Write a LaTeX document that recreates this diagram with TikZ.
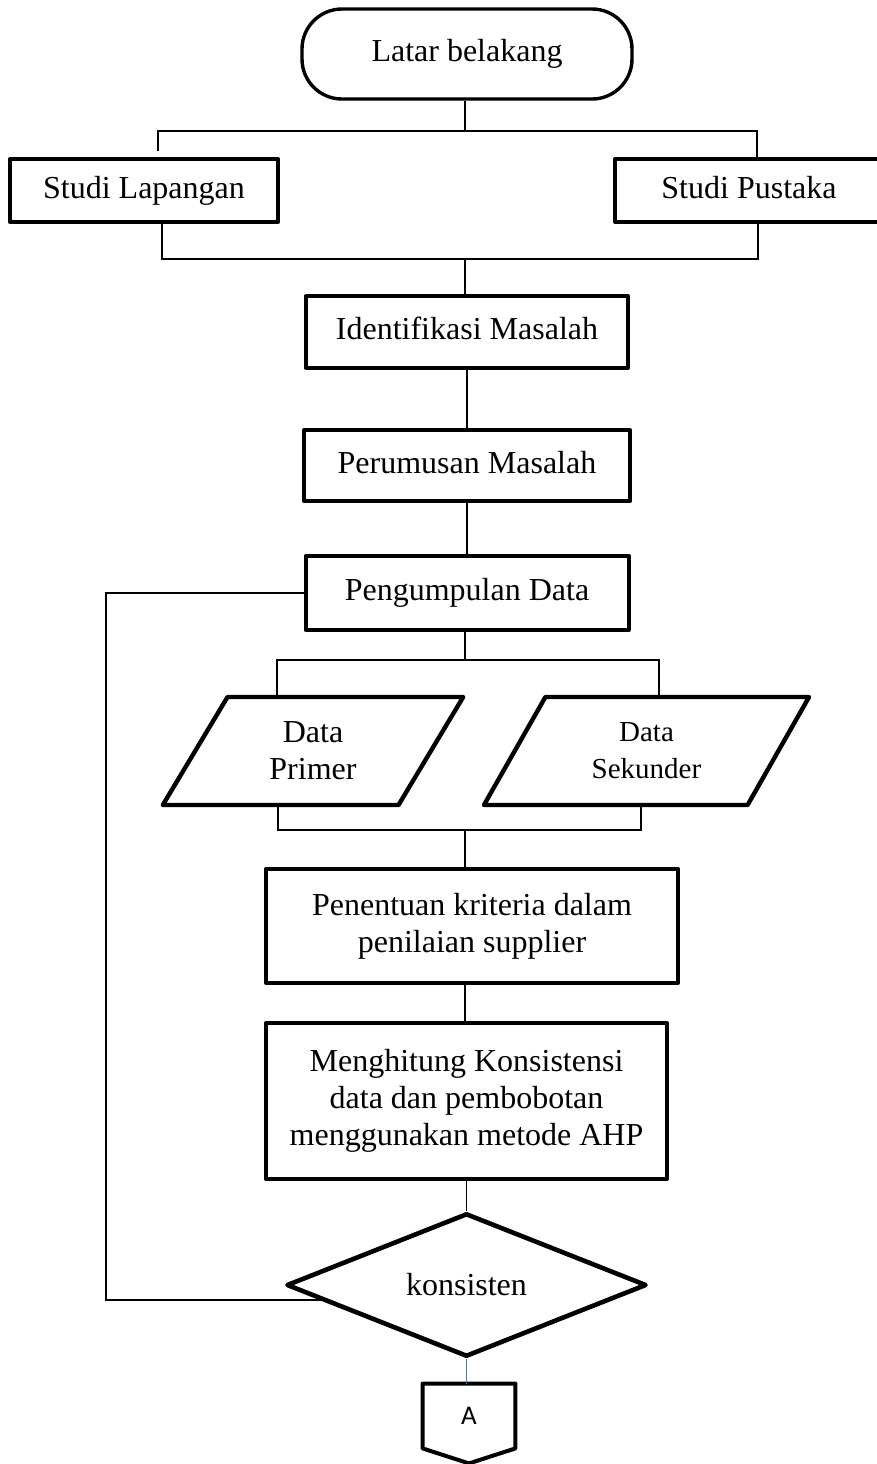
\documentclass[tikz,border=0pt]{standalone}
\usepackage{fontspec}
\setmainfont{Liberation Serif}
\newfontfamily\konfont{Carlito}
\usepackage{xcolor}
\usepackage{tikz}
\usetikzlibrary{positioning,calc,shapes.geometric}
\definecolor{garisbiru}{RGB}{68,114,196}

\begin{document}
\begin{tikzpicture}[
  x=0.5pt, y=0.5pt,
  font=\fontsize{16}{18.5}\selectfont,
  term/.style={draw, line width=1.7pt, rounded corners=20pt, minimum width=165pt, minimum height=45pt, inner sep=0pt},
  proc/.style={draw, line width=2pt, line join=round, align=center, inner sep=0pt},
  satu/.style={text height=11pt, text depth=3.5pt},
  data/.style={draw, trapezium, trapezium stretches=true, line width=2.2pt, line join=round, align=center, inner sep=0pt, minimum height=54pt},
  dec/.style={draw, diamond, line width=2.3pt, line join=round, minimum width=180pt, minimum height=71pt, inner sep=0pt},
  garis/.style={line width=0.7pt}
]
\useasboundingbox (0,0) rectangle (877,-1464);
\node[term, satu] (latar) at (467,-54) {Latar belakang};
\node[proc, satu, minimum width=134pt, minimum height=31.5pt] (lapangan) at (144,-190.5) {Studi Lapangan};
\node[proc, satu, minimum width=134pt, minimum height=31.5pt] (pustaka) at (749,-190.5) {Studi Pustaka};
\node[proc, satu, minimum width=161pt, minimum height=36pt] (identifikasi) at (467,-332) {Identifikasi Masalah};
\node[proc, satu, minimum width=163pt, minimum height=35.5pt, below=29pt of identifikasi] (perumusan) {Perumusan Masalah};
\node[proc, satu, minimum width=161.5pt, minimum height=37pt, below=25.5pt of perumusan] (kumpul) {Pengumpulan Data};
\node[data, trapezium left angle=60.5, trapezium right angle=119.5, minimum width=151pt] (primer) at (313,-751) {Data\\Primer};
\node[data, trapezium left angle=59.4, trapezium right angle=120.6, minimum width=163.5pt, font=\fontsize{14.5}{18.5}\selectfont] (sekunder) at (646.5,-751) {Data\\Sekunder};
\node[proc, minimum width=206pt, minimum height=57pt] (penentuan) at (472,-926) {Penentuan kriteria dalam\\penilaian supplier};
\node[proc, minimum width=200.5pt, minimum height=78pt] (hitung) at (466.5,-1101) {Menghitung Konsistensi\\data dan pembobotan\\menggunakan metode AHP};
\node[dec, below=15pt of hitung] (konsisten) {konsisten};
\node[minimum width=46pt, minimum height=32pt, inner sep=0pt, font=\konfont\fontsize{13.5}{16}\selectfont] (konA) at (469,-1416) {A};
\draw[line width=2pt, line join=round] (konA.north west) -- (konA.north east) -- (konA.south east) -- ($(konA.south)+(0,-15)$) -- (konA.south west) -- cycle;

\coordinate (cabang1) at (465,-131);
\coordinate (kiri1) at (158,-151);
\coordinate (kanan1) at (757,-159);
\coordinate (gabung1) at (465,-259);
\coordinate (cabang2) at (465,-660);
\coordinate (gabung2) at (465,-830);
\coordinate (balik) at ($(konsisten.west)!0.2!(konsisten.south)$);
\coordinate (sudut) at (106,-900);

\draw[garis] (cabang1 |- latar.south) -- (cabang1);
\draw[garis] (kiri1) |- (cabang1) -| (kanan1);
\draw[garis] ([xshift=9pt]lapangan.south) |- (gabung1) -| ([xshift=4.5pt]pustaka.south);
\draw[garis] (gabung1) -- (gabung1 |- identifikasi.north);
\draw[garis] (identifikasi) -- (perumusan);
\draw[garis] (perumusan) -- (kumpul);
\draw[garis] (cabang2 |- kumpul.south) -- (cabang2);
\draw[garis] ([xshift=-18pt]primer.north) |- (cabang2) -| ([xshift=6.25pt]sekunder.north);
\draw[garis] ([xshift=-17.5pt]primer.south) |- (gabung2) -| ([xshift=-2.75pt]sekunder.south);
\draw[garis] (gabung2) -- (gabung2 |- penentuan.north);
\draw[garis] (gabung2 |- penentuan.south) -- (gabung2 |- hitung.north);
\draw[garis] (hitung) -- (konsisten);
\draw[garis, draw=garisbiru] (konsisten.south) -- (konsisten.south |- konA.north);
\draw[garis] (balik) -| (sudut) |- (kumpul.west);
\end{tikzpicture}
\end{document}
